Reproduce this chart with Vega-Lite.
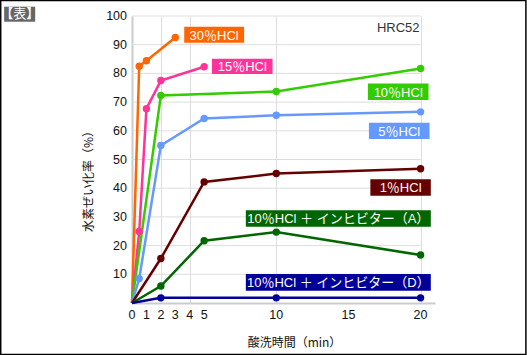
{
  "$schema": "https://vega.github.io/schema/vega-lite/v6.json",
  "width": 303,
  "height": 287,
  "autosize": "none",
  "padding": {"left": 132, "top": 16, "right": 92, "bottom": 52},
  "background": "white",
  "config": {
    "view": {"stroke": null},
    "axis": {"titleFont": "Noto Sans CJK JP", "titleColor": "#111", "titleFontWeight": "normal", "domainColor": "#cccccc", "domainWidth": 2, "ticks": false, "gridColor": "#dddddd", "gridWidth": 1, "labels": false}
  },
  "datasets": {
    "series": [
      {"s": "30", "t": 0, "v": 0}, {"s": "30", "t": 0.5, "v": 82.5}, {"s": "30", "t": 1, "v": 84.4}, {"s": "30", "t": 3, "v": 92.5},
      {"s": "15", "t": 0, "v": 0}, {"s": "15", "t": 0.5, "v": 24.9}, {"s": "15", "t": 1, "v": 67.7}, {"s": "15", "t": 2, "v": 77.5}, {"s": "15", "t": 5, "v": 82.3},
      {"s": "10", "t": 0, "v": 0}, {"s": "10", "t": 2, "v": 72.3}, {"s": "10", "t": 10, "v": 73.7}, {"s": "10", "t": 20, "v": 81.7},
      {"s": "5", "t": 0, "v": 0}, {"s": "5", "t": 0.5, "v": 8.5}, {"s": "5", "t": 2, "v": 54.9}, {"s": "5", "t": 5, "v": 64.3}, {"s": "5", "t": 10, "v": 65.4}, {"s": "5", "t": 20, "v": 66.6},
      {"s": "1", "t": 0, "v": 0}, {"s": "1", "t": 2, "v": 15.5}, {"s": "1", "t": 5, "v": 42.2}, {"s": "1", "t": 10, "v": 45.1}, {"s": "1", "t": 20, "v": 46.8},
      {"s": "A", "t": 0, "v": 0}, {"s": "A", "t": 2, "v": 5.9}, {"s": "A", "t": 5, "v": 21.7}, {"s": "A", "t": 10, "v": 24.7}, {"s": "A", "t": 20, "v": 16.7},
      {"s": "D", "t": 0, "v": 0}, {"s": "D", "t": 2, "v": 1.8}, {"s": "D", "t": 10, "v": 1.8}, {"s": "D", "t": 20, "v": 1.8}
    ],
    "labels": [
      {"s": "30", "label": "30％HCl", "x1": 3.62, "x2": 7.77, "y1": 96.27, "y2": 90.7},
      {"s": "15", "label": "15％HCl", "x1": 5.54, "x2": 9.74, "y1": 85.12, "y2": 79.79},
      {"s": "10", "label": "10％HCl", "x1": 16.35, "x2": 20.55, "y1": 76.48, "y2": 70.73},
      {"s": "5", "label": "5％HCl", "x1": 16.42, "x2": 20.62, "y1": 62.82, "y2": 57.14},
      {"s": "1", "label": "1％HCl", "x1": 16.52, "x2": 20.71, "y1": 43.1, "y2": 37.39},
      {"s": "A", "label": "10％HCl ＋ インヒビター（A）", "x1": 7.89, "x2": 20.71, "y1": 32.3, "y2": 26.59},
      {"s": "D", "label": "10％HCl ＋ インヒビター（D）", "x1": 7.89, "x2": 20.71, "y1": 10.1, "y2": 4.29}
    ],
    "hgrid": [{"g": 10}, {"g": 20}, {"g": 30}, {"g": 40}, {"g": 50}, {"g": 60}, {"g": 70}, {"g": 80}, {"g": 90}, {"g": 100}],
    "xticks": [{"t": 0}, {"t": 1}, {"t": 2}, {"t": 3}, {"t": 4}, {"t": 5}, {"t": 10}, {"t": 15}, {"t": 20}],
    "notes": [{"text": "HRC52", "x": 19.93, "y": 95.7}],
    "badge": [{"text": "【表】", "x1": -8.86, "x2": -6.71, "y1": 103.24, "y2": 98.01}],
    "frame": [{"x1": -9.1, "x2": 27.3, "y1": 105.4, "y2": -17.94}]
  },
  "layer": [
    {
      "data": {"name": "hgrid"},
      "mark": {"type": "rule", "color": "#dddddd", "strokeWidth": 1},
      "encoding": {
        "y": {"field": "g", "type": "quantitative"},
        "x": {"datum": 0, "type": "quantitative"},
        "x2": {"datum": 20}
      }
    },
    {
      "data": {"name": "hgrid"},
      "mark": {"type": "text", "font": "Liberation Sans", "fontSize": 12.5, "color": "#111", "align": "right", "baseline": "middle", "dx": -5},
      "encoding": {
        "y": {"field": "g", "type": "quantitative"},
        "x": {"datum": 0, "type": "quantitative"},
        "text": {"field": "g", "type": "quantitative"}
      }
    },
    {
      "data": {"name": "xticks"},
      "mark": {"type": "text", "font": "Liberation Sans", "fontSize": 12.5, "color": "#111", "align": "center", "baseline": "middle", "dy": 12},
      "encoding": {
        "x": {"field": "t", "type": "quantitative"},
        "y": {"datum": 0, "type": "quantitative"},
        "text": {"field": "t", "type": "quantitative"}
      }
    },
    {
      "data": {"name": "series"},
      "mark": {"type": "line", "strokeWidth": 2.5},
      "encoding": {
        "x": {"field": "t", "type": "quantitative", "scale": {"domain": [0, 21], "nice": false, "zero": false}, "axis": {"values": [0, 1, 2, 3, 4, 5, 10, 15, 20], "grid": true, "title": "酸洗時間（min）", "titleFontSize": 12, "titleX": 162, "titleY": 39, "titleAlign": "center", "titleBaseline": "middle"}},
        "y": {"field": "v", "type": "quantitative", "scale": {"domain": [0, 100], "nice": false, "zero": false}, "axis": {"values": [10, 20, 30, 40, 50, 60, 70, 80, 90, 100], "grid": false, "title": "水素ぜい化率（%）", "titleFontSize": 12, "titleX": -44, "titleY": 162, "titleAngle": -90, "titleAlign": "center", "titleBaseline": "middle"}},
        "color": {"field": "s", "type": "nominal", "legend": null, "scale": {"domain": ["30", "15", "10", "5", "1", "A", "D"], "range": ["#ff6600", "#ff3399", "#33cc00", "#6699ff", "#660000", "#006600", "#000099"]}}
      }
    },
    {
      "data": {"name": "series"},
      "transform": [{"filter": "datum.t > 0"}],
      "mark": {"type": "circle", "size": 55, "opacity": 1},
      "encoding": {
        "x": {"field": "t", "type": "quantitative"},
        "y": {"field": "v", "type": "quantitative"},
        "color": {"field": "s", "type": "nominal", "legend": null}
      }
    },
    {
      "data": {"name": "labels"},
      "mark": {"type": "rect"},
      "encoding": {
        "x": {"field": "x1", "type": "quantitative"},
        "x2": {"field": "x2"},
        "y": {"field": "y1", "type": "quantitative"},
        "y2": {"field": "y2"},
        "color": {"field": "s", "type": "nominal", "legend": null}
      }
    },
    {
      "data": {"name": "labels"},
      "transform": [{"calculate": "(datum.x1 + datum.x2) / 2", "as": "xc"}, {"calculate": "(datum.y1 + datum.y2) / 2", "as": "yc"}],
      "mark": {"type": "text", "color": "white", "font": "Liberation Sans, Noto Sans CJK JP", "fontSize": 13, "align": "center", "baseline": "middle", "dy": 1},
      "encoding": {
        "x": {"field": "xc", "type": "quantitative"},
        "y": {"field": "yc", "type": "quantitative"},
        "text": {"field": "label"}
      }
    },
    {
      "data": {"name": "notes"},
      "mark": {"type": "text", "color": "#333333", "font": "Liberation Sans", "fontSize": 13, "align": "right", "baseline": "middle"},
      "encoding": {
        "x": {"field": "x", "type": "quantitative"},
        "y": {"field": "y", "type": "quantitative"},
        "text": {"field": "text"}
      }
    },
    {
      "data": {"name": "badge"},
      "mark": {"type": "rect", "color": "#666666"},
      "encoding": {
        "x": {"field": "x1", "type": "quantitative"},
        "x2": {"field": "x2"},
        "y": {"field": "y1", "type": "quantitative"},
        "y2": {"field": "y2"}
      }
    },
    {
      "data": {"name": "badge"},
      "transform": [{"calculate": "(datum.x1 + datum.x2) / 2", "as": "xc"}, {"calculate": "(datum.y1 + datum.y2) / 2", "as": "yc"}],
      "mark": {"type": "text", "color": "white", "font": "Noto Sans CJK JP", "fontSize": 13, "align": "center", "baseline": "middle"},
      "encoding": {
        "x": {"field": "xc", "type": "quantitative"},
        "y": {"field": "yc", "type": "quantitative"},
        "text": {"field": "text"}
      }
    },
    {
      "data": {"name": "frame"},
      "mark": {"type": "rect", "fill": null, "fillOpacity": 0, "stroke": "black", "strokeWidth": 1.5},
      "encoding": {
        "x": {"field": "x1", "type": "quantitative"},
        "x2": {"field": "x2"},
        "y": {"field": "y1", "type": "quantitative"},
        "y2": {"field": "y2"}
      }
    }
  ]
}
